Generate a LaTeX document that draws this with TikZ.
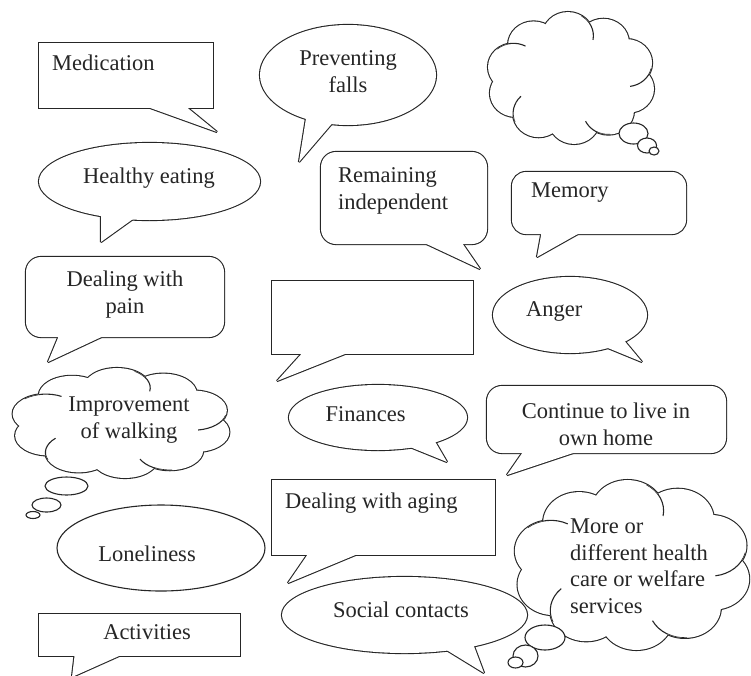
\documentclass[tikz,border=0pt]{standalone}
\usepackage{fontspec}
\setmainfont{Liberation Serif}
\tikzset{
  outl/.style={line width=2.2pt, draw=black!85, miter limit=1.5},
  thinl/.style={line width=1.1pt, draw=black!85, fill=white},
  curl/.style={line width=1.1pt, draw=black!85},
  lbl/.style={font=\fontsize{22.5}{26.5}\selectfont, text=black!85, inner sep=0pt},
}
% union outline: thick stroke of both parts, then white fill of both parts
\newcommand\callshape[2]{\draw[outl] #1; \draw[outl] #2; \fill[white] #1; \fill[white] #2;}
\newcommand\cloudbody[4]{%
  \foreach \t in {0,36,...,324}{\draw[outl] ({#1+0.7*#3*cos(\t+15)},{#2+0.64*#4*sin(\t+15)}) ellipse [x radius={0.3*#3}, y radius={0.36*#4}];}
  \draw[outl] (#1,#2) ellipse [x radius={0.8*#3}, y radius={0.75*#4}];
  \foreach \t in {0,36,...,324}{\fill[white] ({#1+0.7*#3*cos(\t+15)},{#2+0.64*#4*sin(\t+15)}) ellipse [x radius={0.3*#3}, y radius={0.36*#4}];}
  \fill[white] (#1,#2) ellipse [x radius={0.8*#3}, y radius={0.75*#4}];
  \begin{scope}
    \clip (#1,#2) ellipse [x radius={0.8*#3}, y radius={0.75*#4}]
      \foreach \t in {0,36,...,324}{ ({#1+0.7*#3*cos(\t+15)},{#2+0.64*#4*sin(\t+15)}) ellipse [x radius={0.3*#3}, y radius={0.36*#4}] };
    \foreach \t in {36,108,180,252,324}{%
      \draw[curl] ({#1+0.7*#3*cos(\t+15)+0.3*#3*cos(\t+50)},{#2+0.64*#4*sin(\t+15)+0.36*#4*sin(\t+50)})
        arc [start angle=\t+50, end angle=\t+118, x radius={0.3*#3}, y radius={0.36*#4}];}
  \end{scope}
}
\newcommand\thoughtdot[4]{\draw[thinl] (#1,#2) ellipse [x radius=#3, y radius=#4];}
\begin{document}
\begin{tikzpicture}[x=1pt,y=-1pt]
\useasboundingbox (0,0) rectangle (751,675);
\fill[white] (0,0) rectangle (751,675);

% Medication
\callshape{(39,43) rectangle (213,108)}{(142,105) -- (217,132) -- (184,105) -- cycle}
\node[lbl, anchor=base west] (medication) at (52,70) {Medication};

% Preventing falls
\callshape{(348,75) ellipse [x radius=88, y radius=50]}{(307,112) -- (299,162) -- (335,120) -- cycle}
\node[lbl, anchor=north, align=center] (prevent) at (348,50.5) {Preventing\\falls};

% empty cloud top right
\cloudbody{571}{78}{85}{66}
\thoughtdot{633.5}{133.5}{14.5}{10.5}
\thoughtdot{647}{145.5}{9.5}{7.5}
\thoughtdot{654}{151}{5}{4}

% Healthy eating
\callshape{(149.5,181.5) ellipse [x radius=110.5, y radius=38.5]}{(101,212) -- (101,242) -- (140,214) -- cycle}
\node[lbl, anchor=base] (healthy) at (149,183) {Healthy eating};

% Remaining independent
\callshape{[rounded corners=15pt] (321,152) rectangle (487,244)}{(418,240) -- (480,269) -- (460,240) -- cycle}
\node[lbl, anchor=north west, align=left] (remain) at (338,167.7) {Remaining\\independent};

% Memory
\callshape{[rounded corners=14pt] (512,172) rectangle (686,234)}{(542,230) -- (537,257) -- (585,230) -- cycle}
\node[lbl, anchor=base west] (memory) at (531,197) {Memory};

% Dealing with pain
\callshape{[rounded corners=15pt] (26,257) rectangle (224,337)}{(60,333) -- (48,362) -- (110,333) -- cycle}
\node[lbl, anchor=north, align=center] (pain) at (125,270.7) {Dealing with\\pain};

% empty rectangle
\callshape{(272,281) rectangle (473,354)}{(305,350) -- (277,381) -- (355,350) -- cycle}

% Anger
\callshape{(570,315) ellipse [x radius=77, y radius=38]}{(622,338) -- (642,362) -- (603,346) -- cycle}
\node[lbl, anchor=base west] (anger) at (526,316) {Anger};

% Improvement of walking cloud
\cloudbody{121}{423}{111}{55}
\thoughtdot{66.5}{486}{21.5}{9}
\thoughtdot{46.5}{505}{14.5}{7}
\thoughtdot{33}{515}{7}{3.5}
\node[lbl, anchor=north, align=center] (walking) at (129,396.7) {Improvement\\of walking};

% Finances
\callshape{(378,417.5) ellipse [x radius=89, y radius=32.5]}{(433,438) -- (447,462) -- (405,445) -- cycle}
\node[lbl, anchor=base] (finances) at (365.5,421) {Finances};

% Continue to live in own home
\callshape{[rounded corners=15pt] (487,386) rectangle (726,453)}{(525,449) -- (507,475) -- (585,449) -- cycle}
\node[lbl, anchor=north, align=center] (home) at (606,402.7) {Continue to live in\\own home};

% Loneliness
\draw[thinl] (161,548) ellipse [x radius=104, y radius=43];
\node[lbl, anchor=base] (lonely) at (147,561) {Loneliness};

% Dealing with aging
\callshape{(272,480) rectangle (495,555)}{(310,551) -- (288,583) -- (365,551) -- cycle}
\node[lbl, anchor=base west] (aging) at (285,508) {Dealing with aging};

% More or different health care cloud
\cloudbody{632}{565}{120}{85}
\thoughtdot{545}{637.5}{20}{12.5}
\thoughtdot{525.5}{656}{12.5}{11}
\thoughtdot{515.5}{662.5}{7.5}{5.5}
\node[lbl, anchor=north west, align=left] (services) at (570,518.7) {More or\\different health\\care or welfare\\services};

% Social contacts
\callshape{(404.5,615) ellipse [x radius=122.5, y radius=38]}{(472,641) -- (484,673) -- (440,646) -- cycle}
\node[lbl, anchor=base] (social) at (401,617) {Social contacts};

% Activities
\callshape{(39,614) rectangle (240,656)}{(75,652) -- (72,677) -- (128,652) -- cycle}
\node[lbl, anchor=base] (activities) at (147,639) {Activities};
\end{tikzpicture}
\end{document}
